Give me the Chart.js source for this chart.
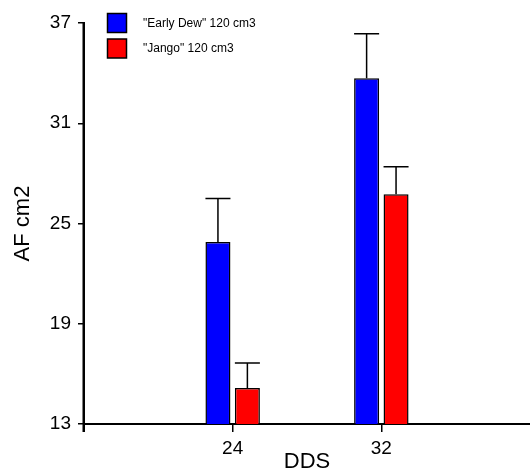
<!DOCTYPE html>
<html>
<head>
<meta charset="utf-8">
<script src="https://cdn.jsdelivr.net/npm/chart.js@4"></script>
<style>
  body { margin: 0; background: #fff; }
</style>
</head>
<body>
<canvas id="myChart" width="530" height="469"></canvas>
<script>
// dane
const categories = ['', '24', '32', '']
const seriesNames = ['"Early Dew" 120 cm3', '"Jango" 120 cm3']
const earlyDew = [null, 23.9, 33.7, null]
const earlyDewErr = [null, 2.6, 2.65, null]
const jango = [null, 15.15, 26.75, null]
const jangoErr = [null, 1.5, 1.65, null]
const yMin = 13
const yMax = 37
const yStep = 6

const errors = [earlyDewErr, jangoErr]

// slupki bledow (tylko w gore)
const errorBars = {
  id: 'errorBars',
  afterDatasetsDraw(chart) {
    const ctx = chart.ctx
    const y = chart.scales.y
    ctx.save()
    ctx.strokeStyle = '#000'
    ctx.lineWidth = 1.5
    chart.data.datasets.forEach((ds, d) => {
      const meta = chart.getDatasetMeta(d)
      meta.data.forEach((bar, i) => {
        if (ds.data[i] == null) return
        const top = y.getPixelForValue(ds.data[i] + errors[d][i])
        const half = bar.width / 2
        ctx.beginPath()
        ctx.moveTo(bar.x, bar.y)
        ctx.lineTo(bar.x, top)
        ctx.moveTo(bar.x - half, top)
        ctx.lineTo(bar.x + half, top)
        ctx.stroke()
      })
    })
    ctx.restore()
  }
}

// os Y rysowana recznie (od gornego ticka do konca ticka osi X)
const yAxisLine = {
  id: 'yAxisLine',
  afterDraw(chart) {
    const ctx = chart.ctx
    const x = chart.scales.x
    const y = chart.scales.y
    ctx.save()
    ctx.fillStyle = '#000'
    ctx.fillRect(x.left - 1.5, y.top, 2.5, y.bottom + 8 - y.top)
    ctx.restore()
  }
}

// legenda w lewym gornym rogu
const boxLegend = {
  id: 'boxLegend',
  afterDraw(chart) {
    const ctx = chart.ctx
    ctx.save()
    ctx.font = '12px "Liberation Sans", Arial, sans-serif'
    ctx.textBaseline = 'middle'
    chart.data.datasets.forEach((ds, d) => {
      const bx = 107.5
      const by = 13.5 + d * 25.5
      ctx.fillStyle = ds.backgroundColor
      ctx.fillRect(bx, by, 19, 19)
      ctx.strokeStyle = '#000'
      ctx.lineWidth = 1.5
      ctx.strokeRect(bx, by, 19, 19)
      ctx.fillStyle = '#000'
      ctx.fillText(ds.label, 143, by + 10)
    })
    ctx.restore()
  }
}

const ctx = document.getElementById('myChart')

new Chart(ctx, {
  type: 'bar',
  data: {
    labels: categories,
    datasets: [{
      label: seriesNames[0],
      data: earlyDew,
      backgroundColor: '#0000ff',
      borderColor: '#000',
      borderWidth: 1.5
    }, {
      label: seriesNames[1],
      data: jango,
      backgroundColor: '#ff0000',
      borderColor: '#000',
      borderWidth: 1.5
    }]
  },
  options: {
    responsive: false,
    animation: false,
    categoryPercentage: 0.396,
    barPercentage: 0.85,
    layout: { padding: { top: 23, right: 0, left: 0, bottom: 0 } },
    plugins: {
      legend: { display: false },
      tooltip: { enabled: false }
    },
    scales: {
      x: {
        offset: false,
        afterFit(scale) {
          scale.height = 45
          scale.paddingLeft = 0
          scale.paddingRight = 0
        },
        border: { color: '#000', width: 2 },
        grid: {
          offset: false,
          drawOnChartArea: false,
          tickLength: 8,
          lineWidth: 1.5,
          color: (c) => c.index < 3 ? '#000' : 'rgba(0,0,0,0)'
        },
        ticks: {
          color: '#000',
          padding: 5,
          maxRotation: 0,
          autoSkip: false,
          font: { family: '"Liberation Sans", Arial, sans-serif', size: 19 }
        },
        title: {
          display: true,
          text: 'DDS',
          color: '#000',
          padding: 0,
          font: { family: '"Liberation Sans", Arial, sans-serif', size: 22, lineHeight: 0.62 }
        }
      },
      y: {
        min: yMin,
        max: yMax,
        afterFit(scale) { scale.width = 84 },
        border: { display: true, color: '#000', width: 2 },
        grid: {
          drawOnChartArea: false,
          tickLength: 6,
          lineWidth: 1.5,
          color: '#000'
        },
        ticks: {
          stepSize: yStep,
          color: '#000',
          padding: 7,
          font: { family: '"Liberation Sans", Arial, sans-serif', size: 19 }
        },
        title: {
          display: true,
          text: 'AF cm2',
          color: '#000',
          padding: { top: 10, bottom: 0 },
          font: { family: '"Liberation Sans", Arial, sans-serif', size: 22 }
        }
      }
    }
  },
  plugins: [errorBars, yAxisLine, boxLegend]
})
</script>
</body>
</html>
